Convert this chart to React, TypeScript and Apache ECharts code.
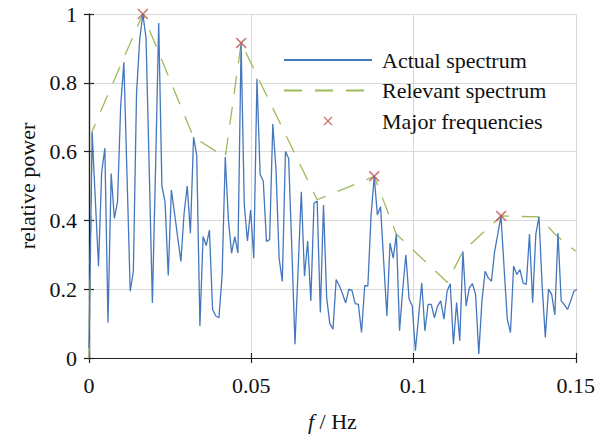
import React, { useEffect, useRef } from "react";
import * as echarts from "echarts";

// frequency resolution of the spectrum (Hz)
const FREQ_STEP = 1 / 1024;

// relative power of the actual spectrum, one value per frequency bin
const spectrum = [
  0.03, 0.656, 0.46, 0.267, 0.54, 0.61, 0.103, 0.536, 0.406, 0.454,
  0.733, 0.86, 0.53, 0.194, 0.252, 0.77, 0.926, 1.0, 0.93, 0.55,
  0.16, 0.55, 0.974, 0.5, 0.454, 0.24, 0.488, 0.42, 0.35, 0.281,
  0.42, 0.5, 0.363, 0.642, 0.59, 0.093, 0.353, 0.327, 0.372, 0.141,
  0.122, 0.117, 0.24, 0.584, 0.4, 0.305, 0.353, 0.305, 0.916, 0.445,
  0.34, 0.43, 0.29, 0.812, 0.534, 0.514, 0.339, 0.344, 0.68, 0.55,
  0.29, 0.223, 0.6, 0.58, 0.32, 0.04, 0.26, 0.483, 0.238, 0.34,
  0.166, 0.45, 0.456, 0.132, 0.445, 0.175, 0.1, 0.084, 0.228, 0.21,
  0.187, 0.16, 0.2, 0.196, 0.158, 0.156, 0.074, 0.21, 0.21, 0.413,
  0.528, 0.416, 0.44, 0.28, 0.122, 0.334, 0.29, 0.36, 0.079, 0.2,
  0.3, 0.172, 0.151, 0.021, 0.12, 0.218, 0.079, 0.156, 0.156, 0.117,
  0.151, 0.166, 0.113, 0.194, 0.216, 0.04, 0.161, 0.05, 0.31, 0.151,
  0.204, 0.216, 0.185, 0.012, 0.166, 0.252, 0.233, 0.223, 0.31, 0.36,
  0.413, 0.26, 0.113, 0.074, 0.267, 0.243, 0.257, 0.218, 0.214, 0.36,
  0.161, 0.36, 0.41, 0.209, 0.06, 0.2, 0.185, 0.125, 0.363, 0.166,
  0.155, 0.141, 0.166, 0.194, 0.2,
];

// relevant (envelope) spectrum
const envelopeFreq = [0, 0.00098, 0.0166, 0.0322, 0.042, 0.0469, 0.0703, 0.0879, 0.0947, 0.1104, 0.1152, 0.127, 0.1387, 0.1436, 0.15];
const envelopeValue = [0, 0.66, 1.0, 0.642, 0.584, 0.916, 0.46, 0.528, 0.36, 0.22, 0.31, 0.413, 0.41, 0.36, 0.31];

// major frequencies
const majorFreq = [0.0166, 0.0469, 0.0879, 0.127];
const majorValue = [1.0, 0.916, 0.528, 0.413];

const xTickLabels = ["0", "0.05", "0.1", "0.15"];
const yTickLabels = ["0", "0.2", "0.4", "0.6", "0.8", "1"];

const FONT = "Liberation Serif";
const X_ICON = "path://M0,1L1,0L5,4L9,0L10,1L6,5L10,9L9,10L5,6L1,10L0,9L4,5Z";
const INK = "#111";

export default function App() {
  const ref = useRef<HTMLDivElement>(null);

  useEffect(() => {
    document.body.style.margin = "0";
    const chart = echarts.init(ref.current!, null, { renderer: "svg" });

    const boxLine = { show: true, lineStyle: { color: "#222", width: 1.2 } };
    const tick = { show: true, inside: true, length: 5, lineStyle: { color: "#222", width: 1.2 } };
    const split = { show: true, lineStyle: { color: "#d9d9d9", width: 1 } };
    const hiddenSymbol = { opacity: 0, color: "transparent", borderWidth: 0 };
    const txt = { fontFamily: FONT, fontSize: 22, fontStyle: "normal", fontWeight: "normal", color: INK };

    chart.setOption({
      animation: false,
      textStyle: { fontFamily: FONT },
      grid: { left: 89, right: 22, top: 14, bottom: 76, containLabel: false },
      legend: {
        orient: "vertical",
        left: 278,
        top: 44,
        itemWidth: 88,
        itemHeight: 9,
        itemGap: 8.5,
        symbolKeepAspect: true,
        textStyle: { ...txt, lineHeight: 22, padding: [0, 0, 0, 5] },
        data: [
          { name: "Actual spectrum", itemStyle: hiddenSymbol },
          { name: "Relevant spectrum", itemStyle: hiddenSymbol },
          { name: "Major frequencies", icon: X_ICON },
        ],
      },
      xAxis: [
        {
          type: "value",
          min: 0,
          max: 0.15,
          interval: 0.05,
          position: "bottom",
          axisLine: boxLine,
          axisTick: tick,
          splitLine: split,
          axisLabel: {
            ...txt,
            margin: 16,
            formatter: (v: number) => xTickLabels[Math.round(v / 0.05)] ?? "",
          },
          name: "{i|f} / Hz",
          nameLocation: "middle",
          nameGap: 52,
          nameTextStyle: {
            ...txt,
            rich: { i: { ...txt, fontStyle: "italic" } },
          },
        },
        {
          type: "value",
          min: 0,
          max: 0.15,
          interval: 0.05,
          position: "top",
          axisLine: boxLine,
          axisTick: tick,
          splitLine: { show: false },
          axisLabel: { show: false },
        },
      ],
      yAxis: [
        {
          type: "value",
          min: 0,
          max: 1,
          interval: 0.2,
          position: "left",
          axisLine: boxLine,
          axisTick: tick,
          splitLine: split,
          axisLabel: {
            ...txt,
            margin: 12,
            formatter: (v: number) => yTickLabels[Math.round(v / 0.2)] ?? "",
          },
          name: "relative power",
          nameLocation: "middle",
          nameGap: 44,
          nameTextStyle: { ...txt },
        },
        {
          type: "value",
          min: 0,
          max: 1,
          interval: 0.2,
          position: "right",
          axisLine: boxLine,
          axisTick: tick,
          splitLine: { show: false },
          axisLabel: { show: false },
        },
      ],
      series: [
        {
          name: "Actual spectrum",
          type: "line",
          data: spectrum.map((v, i) => [i * FREQ_STEP, v]),
          showSymbol: false,
          symbol: "none",
          lineStyle: { color: "#4577BE", width: 1.3 },
          itemStyle: { color: "#4577BE" },
          clip: true,
          z: 3,
        },
        {
          name: "Relevant spectrum",
          type: "line",
          data: envelopeFreq.map((f, i) => [f, envelopeValue[i]]),
          showSymbol: false,
          symbol: "none",
          lineStyle: { color: "#9BBB59", width: 1.3, type: [18, 13] },
          itemStyle: { color: "#9BBB59" },
          clip: true,
          z: 2,
        },
        {
          name: "Major frequencies",
          type: "scatter",
          data: majorFreq.map((f, i) => [f, majorValue[i]]),
          symbol: X_ICON,
          symbolSize: 11,
          itemStyle: { color: "#C0504D" },
          clip: false,
          z: 4,
        },
      ],
    });

    return () => chart.dispose();
  }, []);

  return <div ref={ref} style={{ width: 598, height: 437 }} />;
}
